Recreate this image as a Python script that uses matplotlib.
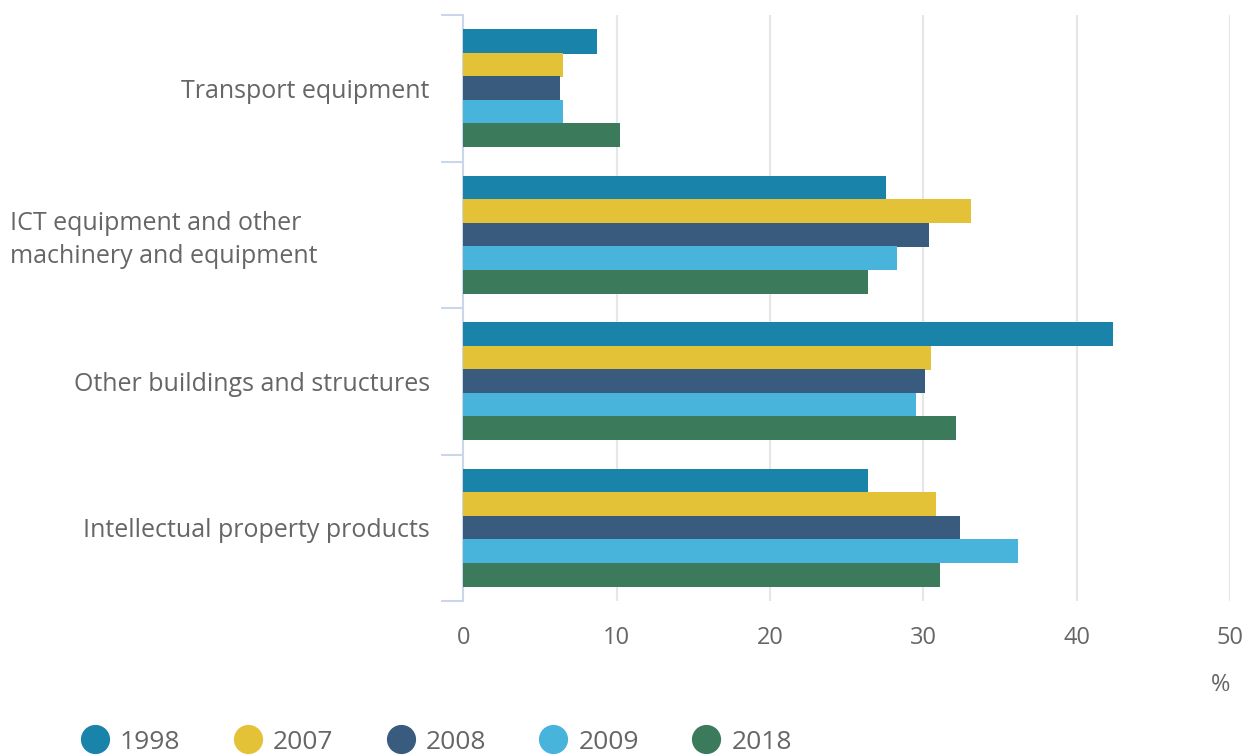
import numpy as np
import matplotlib.pyplot as plt
from matplotlib.lines import Line2D
from matplotlib.transforms import blended_transform_factory

plt.rcParams['font.family'] = ['Open Sans', 'DejaVu Sans']

categories = ['Transport equipment',
              'ICT equipment and other\nmachinery and equipment',
              'Other buildings and structures',
              'Intellectual property products']
years = ['1998', '2007', '2008', '2009', '2018']
v1998 = [8.7, 27.6, 42.4, 26.4]
v2007 = [6.5, 33.1, 30.5, 30.8]
v2008 = [6.3, 30.4, 30.1, 32.4]
v2009 = [6.5, 28.3, 29.5, 36.2]
v2018 = [10.2, 26.4, 32.1, 31.1]
series = [v1998, v2007, v2008, v2009, v2018]
colors = ['#1a83aa', '#e3c238', '#395c7e', '#48b4dc', '#3b7a5a']

fig = plt.figure(figsize=(12.45, 7.55), dpi=100)
ax = fig.add_axes([0.372, 0.204, 0.616, 0.776])

y = np.arange(len(categories))
bh = 0.8 / len(series)
for i, vals in enumerate(series):
    ax.barh(y - 0.4 + bh * (i + 0.5), vals, height=bh * 1.03, color=colors[i],
            edgecolor='none', zorder=3)

ax.set_ylim(len(categories) - 0.5, -0.5)
ax.set_xlim(0, 50)
ax.set_xticks([0, 10, 20, 30, 40, 50])
ax.grid(axis='x', color='#e6e6e6', linewidth=1.5, zorder=0)
for s in ['top', 'right', 'bottom']:
    ax.spines[s].set_visible(False)
ax.spines['left'].set_color('#ccd6eb')
ax.spines['left'].set_linewidth(1.5)

# category labels: two-line label sits left-aligned at the figure edge
ax.set_yticks(y)
ax.set_yticklabels(['' if '\n' in c else c for c in categories],
                   fontsize=18, color='#666666')
trans = blended_transform_factory(fig.transFigure, ax.transData)
for yi, c in zip(y, categories):
    if '\n' in c:
        fig.text(10 / 1245, yi + 0.035, c, transform=trans, ha='left',
                 va='center', fontsize=18, color='#666666', linespacing=1.45)
ax.set_yticks(np.arange(len(categories) + 1) - 0.5, minor=True)
ax.tick_params(axis='y', which='major', length=0, pad=24)
ax.tick_params(axis='y', which='minor', length=16, width=1.5, color='#ccd6eb')
ax.tick_params(axis='x', length=0, labelsize=17, labelcolor='#666666', pad=18)

fig.text(0.98, 0.085, '%', fontsize=17, color='#666666', ha='center')

handles = [Line2D([], [], marker='o', linestyle='none', markersize=20,
                  markerfacecolor=c, markeredgecolor=c) for c in colors]
fig.legend(handles, years, loc='center left', bbox_to_anchor=(0.0465, 0.017),
           ncol=5, frameon=False, fontsize=19, labelcolor='#666666',
           handlelength=1.0, handletextpad=0.45, columnspacing=2.05)

fig.savefig('out.png', dpi=100)
